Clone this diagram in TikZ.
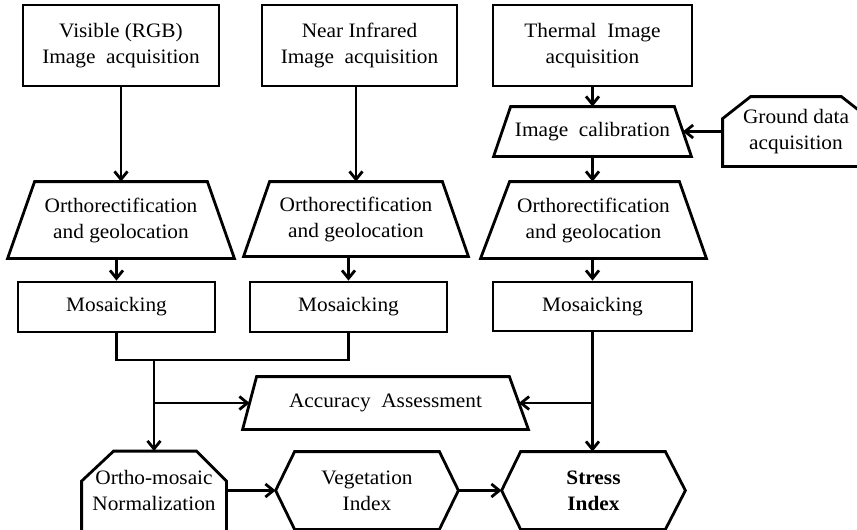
\documentclass[tikz,border=0pt]{standalone}
\usepackage{fontspec}
\setmainfont{Liberation Serif}[FakeStretch=1.04]
\usetikzlibrary{arrows.meta,calc}
\begin{document}
\begin{tikzpicture}[x=1pt,y=-1pt,
  line width=2.8pt, line join=miter,
  every node/.style={font=\fontsize{20.5}{26}\selectfont, align=center, inner sep=0pt},
  plainbox/.style={draw, rectangle},
  outline/.style={rectangle, draw=none},
  arr/.style={-{Straight Barb[length=8pt,width=13pt]}},
  link/.style={-}]
\useasboundingbox (0,0) rectangle (857,530);

% top row
\node[plainbox, minimum width=196, minimum height=81] (vis) at (121,45.5) {Visible (RGB)\\Image~~acquisition};
\node[plainbox, minimum width=195, minimum height=81] (nir) at (359.5,45.5) {Near Infrared\\Image~~acquisition};
\node[plainbox, minimum width=199, minimum height=81] (th) at (592.5,45.5) {Thermal~~Image\\acquisition};

% calibration and ground data
\node[outline, minimum width=195, minimum height=47] (cal) at (592.5,131.5) {Image~~calibration};
\node[outline, minimum width=144, minimum height=67] (gd) at (796,131.5) {Ground data\\acquisition};

% orthorectification
\node[outline, minimum width=224, minimum height=74] (or1) at (121,220) {Orthorectification\\and geolocation};
\node[outline, minimum width=222, minimum height=72] (or2) at (356,219) {Orthorectification\\and geolocation};
\node[outline, minimum width=223, minimum height=74] (or3) at (593.5,220) {Orthorectification\\and geolocation};

% mosaicking
\node[plainbox, minimum width=197, minimum height=50] (mos1) at (116.5,307) {Mosaicking};
\node[plainbox, minimum width=197, minimum height=50] (mos2) at (348.5,307) {Mosaicking};
\node[plainbox, minimum width=199, minimum height=49] (mos3) at (592.5,306.5) {Mosaicking};

% accuracy
\node[outline, minimum width=283, minimum height=50] (acc) at (385.5,403) {Accuracy~~Assessment};

% bottom row
\node[outline, minimum width=142, minimum height=76] (norm) at (154,490.5) {Ortho-mosaic\\Normalization};
\node[outline, minimum width=180, minimum height=75] (veg) at (367,490.5) {Vegetation\\Index};
\node[outline, minimum width=181, minimum height=75, font=\fontsize{20.5}{26}\selectfont\bfseries] (str) at (593.5,490.5) {Stress\\Index};

% trapezium outlines
\draw ($(or1.north west)+(27,0)$) -- ($(or1.north east)+(-27,0)$) -- (or1.south east) -- (or1.south west) -- cycle;
\draw ($(or2.north west)+(26,0)$) -- ($(or2.north east)+(-26,0)$) -- (or2.south east) -- (or2.south west) -- cycle;
\draw ($(or3.north west)+(29,0)$) -- ($(or3.north east)+(-27,0)$) -- (or3.south east) -- (or3.south west) -- cycle;
\draw ($(cal.north west)+(17,0)$) -- ($(cal.north east)+(-17,0)$) -- (cal.south east) -- (cal.south west) -- cycle;
\draw ($(acc.north west)+(14,0)$) -- ($(acc.north east)+(-19,0)$) -- (acc.south east) -- (acc.south west) -- cycle;

% chamfered and hexagonal outlines
\draw (gd.south west) -- ($(gd.north west)+(0,22)$) -- ($(gd.north west)+(28,0)$)
  -- ($(gd.north east)+(-28,0)$) -- ($(gd.north east)+(0,22)$) -- (gd.south east) -- cycle;
\draw ($(norm.south west)+(0,20)$) -- ($(norm.north west)+(0,30)$) -- ($(norm.north west)+(32,0)$)
  -- ($(norm.north east)+(-30,0)$) -- ($(norm.north east)+(0,30)$) -- ($(norm.south east)+(0,20)$);
\draw (veg.west) -- ($(veg.north west)+(19,0)$) -- ($(veg.north east)+(-19,0)$) -- (veg.east)
  -- ($(veg.south east)+(-19,0)$) -- ($(veg.south west)+(19,0)$) -- cycle;
\draw (str.west) -- ($(str.north west)+(19,0)$) -- ($(str.north east)+(-20,0)$) -- (str.east)
  -- ($(str.south east)+(-20,0)$) -- ($(str.south west)+(19,0)$) -- cycle;

% connectors
\draw[arr] (vis.south) -- (or1.north);
\draw[arr] (nir.south -| or2.north) -- (or2.north);
\draw[arr] (th.south) -- (cal.north);
\draw[arr] (gd.west) -- ($(cal.east)+(-8.5,0)$);
\draw[arr] (cal.south) -- (cal.south |- or3.north);
\draw[arr] (or1.south -| mos1.north) -- (mos1.north);
\draw[arr] (or2.south -| mos2.north) -- (mos2.north);
\draw[arr] (or3.south -| mos3.north) -- (mos3.north);

\coordinate (j) at (154,360);
\draw[link] (mos1.south) |- (j) -| (mos2.south);
\draw[arr] (j) -- (j |- norm.north);
\draw[arr] (j |- acc.west) -- ($(acc.west)+(7,0)$);
\draw[arr] (mos3.south) -- (mos3.south |- str.north);
\draw[arr] (mos3.south |- acc.east) -- ($(acc.east)+(-9.5,0)$);
\draw[arr] (veg.west -| norm.east) -- (veg.west);
\draw[arr] (veg.east) -- (str.west);
\end{tikzpicture}
\end{document}
